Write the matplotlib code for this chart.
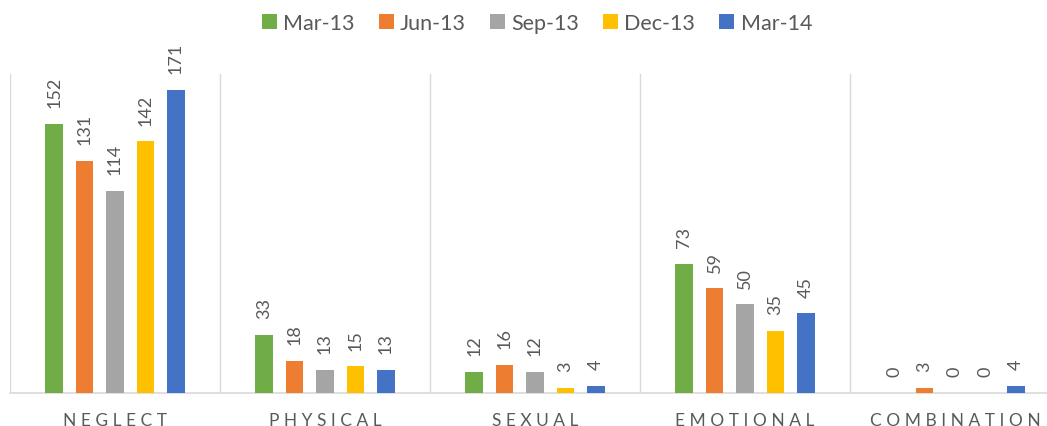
import numpy as np
import matplotlib.pyplot as plt

plt.rcParams['font.family'] = ['Lato', 'DejaVu Sans']

categories = ['NEGLECT', 'PHYSICAL', 'SEXUAL', 'EMOTIONAL', 'COMBINATION']
series = ['Mar-13', 'Jun-13', 'Sep-13', 'Dec-13', 'Mar-14']
values = [
    [152, 33, 12, 73, 0],
    [131, 18, 16, 59, 3],
    [114, 13, 12, 50, 0],
    [142, 15, 3, 35, 0],
    [171, 13, 4, 45, 4],
]
colors = ['#70AD47', '#ED7D31', '#A5A5A5', '#FFC000', '#4472C4']
text_color = '#595959'
grid_color = '#D9D9D9'

fig = plt.figure(figsize=(10.47, 4.27), dpi=100)
ax = fig.add_axes([10 / 1047, 33 / 427, 1050 / 1047, 319 / 427])

x = np.arange(len(categories))
step = 0.145
width = 0.085

handles = []
for i, (name, vals, c) in enumerate(zip(series, values, colors)):
    pos = x + (i - 2) * step
    bars = ax.bar(pos, vals, width, color=c, label=name, zorder=3)
    handles.append(bars)
    for p, v in zip(pos, vals):
        ax.annotate(str(v), (p, v), xytext=(0, 12), textcoords='offset points',
                    ha='center', va='bottom', rotation=90, fontsize=13,
                    color=text_color)

ax.set_xlim(-0.5, len(categories) - 0.5)
ax.set_ylim(0, 180)
for b in np.arange(-0.5, len(categories), 1.0):
    ax.axvline(b, color=grid_color, lw=1, zorder=1)

for s in ['top', 'right', 'left']:
    ax.spines[s].set_visible(False)
ax.spines['bottom'].set_color(grid_color)
ax.spines['bottom'].set_linewidth(1.2)
ax.set_yticks([])
ax.set_xticks(x)
ax.set_xticklabels([' '.join(c) for c in categories], fontsize=12.5, color=text_color)
ax.tick_params(axis='x', length=0, pad=13.5)

fig.legend(handles=handles, labels=series, loc='center', ncol=5,
           bbox_to_anchor=(537 / 1047, 403 / 427), frameon=False,
           fontsize=15.5, handlelength=0.7, handleheight=0.7,
           handletextpad=0.3, columnspacing=1.1, labelcolor=text_color)

fig.savefig('out.png', dpi=100)
